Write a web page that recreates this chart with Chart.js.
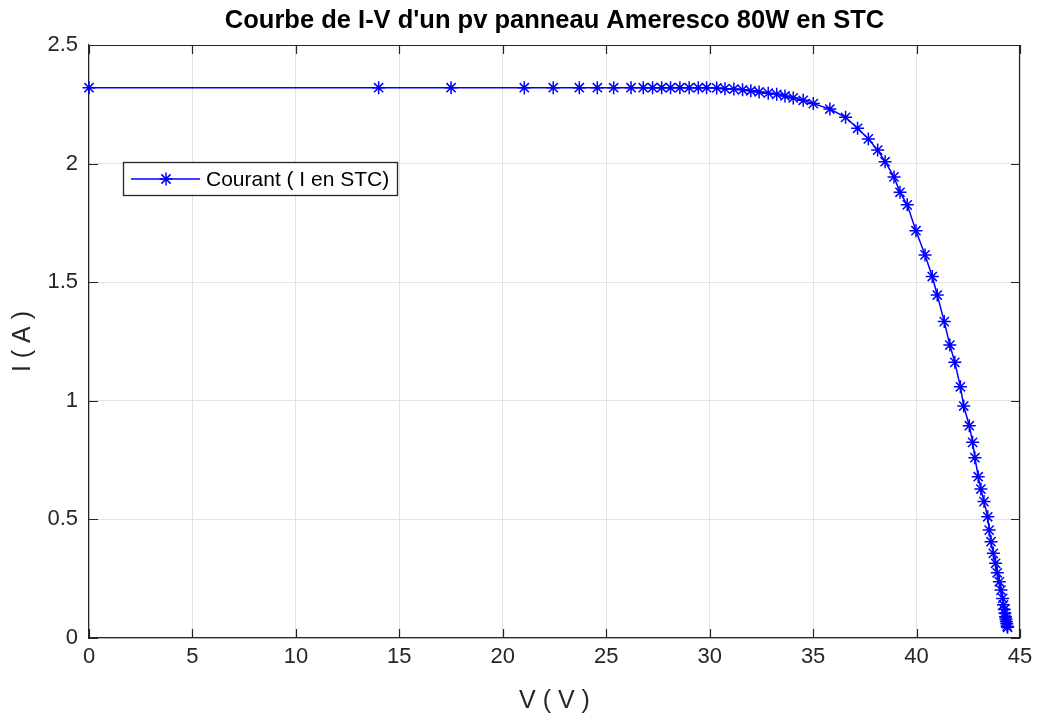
<!DOCTYPE html>
<html>
<head>
<meta charset="utf-8">
<script src="https://cdn.jsdelivr.net/npm/chart.js@4/dist/chart.umd.min.js"></script>
<style>
  html, body { margin: 0; padding: 0; background: #fff; }
  #wrap { width: 1042px; height: 720px; }
</style>
</head>
<body>
<div id="wrap"><canvas id="iv"></canvas></div>
<script>
// I-V curve (V in volts, I in amps)
const voltage = [0, 14.0, 17.5, 21.04, 22.44, 23.70, 24.57, 25.36, 26.20, 26.79, 27.24, 27.68, 28.11, 28.56, 29.01,
    29.45, 29.85, 30.34, 30.74, 31.17, 31.59, 31.99, 32.39, 32.83, 33.24, 33.64, 34.04, 34.52, 35.01, 35.81,
    36.57, 37.15, 37.67, 38.12, 38.48, 38.91, 39.20, 39.55, 39.97, 40.41, 40.76, 41.00, 41.34, 41.61, 41.85,
    42.12, 42.28, 42.55, 42.71, 42.82, 42.98, 43.11, 43.26, 43.44, 43.51, 43.60, 43.71, 43.82, 43.90, 44.00,
    44.08, 44.16, 44.20, 44.24, 44.27, 44.30, 44.32, 44.34, 44.36, 44.38, 44.40];
const current = [2.32, 2.32, 2.32, 2.32, 2.32, 2.32, 2.32, 2.32, 2.32, 2.32, 2.32, 2.32, 2.32, 2.32, 2.32,
    2.32, 2.32, 2.319, 2.316, 2.314, 2.311, 2.307, 2.302, 2.297, 2.292, 2.285, 2.277, 2.267, 2.253, 2.23,
    2.195, 2.149, 2.104, 2.057, 2.008, 1.944, 1.879, 1.826, 1.717, 1.615, 1.524, 1.446, 1.334, 1.235, 1.162,
    1.059, 0.978, 0.895, 0.825, 0.760, 0.680, 0.628, 0.575, 0.511, 0.455, 0.406, 0.357, 0.315, 0.275, 0.237,
    0.202, 0.167, 0.14, 0.12, 0.105, 0.09, 0.08, 0.07, 0.06, 0.05, 0.045];

const xTicks = [0, 5, 10, 15, 20, 25, 30, 35, 40, 45];
const yTicks = [0, 0.5, 1, 1.5, 2, 2.5];

const titleText = "Courbe de I-V d'un pv panneau Ameresco 80W en STC";
const seriesLabel = 'Courant ( I en STC)';

const FONT = "'Liberation Sans', Arial, Helvetica, sans-serif";
const AXIS = '#262626';
const BLUE = '#0000ff';

// title over the axes, inner tick marks, top/right box lines and the legend
const matlabBox = {
    id: 'matlabBox',
    afterDraw(chart) {
        const { ctx, chartArea: a, scales: { x, y } } = chart;
        const len = 9;
        ctx.save();
        ctx.fillStyle = '#000';
        ctx.font = 'bold 25.5px ' + FONT;
        ctx.textAlign = 'center';
        ctx.textBaseline = 'middle';
        ctx.fillText(titleText, (a.left + a.right) / 2, 21);

        ctx.strokeStyle = AXIS;
        ctx.lineWidth = 1.2;
        ctx.beginPath();
        ctx.moveTo(a.left, a.top + 0.5);
        ctx.lineTo(a.right, a.top + 0.5);
        ctx.moveTo(a.right - 0.5, a.top);
        ctx.lineTo(a.right - 0.5, a.bottom);
        xTicks.forEach(v => {
            const px = Math.round(x.getPixelForValue(v)) + 0.5;
            ctx.moveTo(px, a.bottom); ctx.lineTo(px, a.bottom - len);
            ctx.moveTo(px, a.top); ctx.lineTo(px, a.top + len);
        });
        yTicks.forEach(v => {
            const py = Math.round(y.getPixelForValue(v)) + 0.5;
            ctx.moveTo(a.left, py); ctx.lineTo(a.left + len, py);
            ctx.moveTo(a.right, py); ctx.lineTo(a.right - len, py);
        });
        ctx.stroke();

        // legend
        const bx = 123.5, by = 162.5, bw = 274, bh = 33;
        ctx.fillStyle = '#fff';
        ctx.fillRect(bx, by, bw, bh);
        ctx.strokeStyle = AXIS;
        ctx.lineWidth = 1.3;
        ctx.strokeRect(bx, by, bw, bh);
        const ly = by + bh / 2;
        ctx.strokeStyle = BLUE;
        ctx.lineWidth = 1.5;
        ctx.beginPath();
        ctx.moveTo(131, ly); ctx.lineTo(200, ly);
        ctx.stroke();
        Chart.helpers.drawPoint(ctx, { pointStyle: 'star', radius: 6.5, rotation: 0, borderWidth: 1.5 }, 166, ly);
        ctx.fillStyle = '#000';
        ctx.font = '21px ' + FONT;
        ctx.textAlign = 'left';
        ctx.textBaseline = 'middle';
        ctx.fillText(seriesLabel, 206, ly + 1);
        ctx.restore();
    }
};

new Chart(document.getElementById('iv'), {
    type: 'scatter',
    data: {
        datasets: [{
            label: seriesLabel,
            data: voltage.map((v, i) => ({ x: v, y: current[i] })),
            showLine: true,
            borderColor: BLUE,
            backgroundColor: BLUE,
            borderWidth: 1.5,
            pointStyle: 'star',
            pointRadius: 6.5,
            pointBorderWidth: 1.5,
            pointBorderColor: BLUE,
            tension: 0,
            clip: false
        }]
    },
    options: {
        responsive: true,
        maintainAspectRatio: false,
        animation: false,
        events: [],
        layout: { padding: { left: 0, right: 22, top: 45, bottom: 0 } },
        plugins: {
            legend: { display: false },
            tooltip: { enabled: false },
            title: { display: false }
        },
        scales: {
            x: {
                type: 'linear',
                min: 0, max: 45,
                afterBuildTicks: s => { s.ticks = xTicks.map(v => ({ value: v })); },
                afterFit: s => { s.height = 82; },
                grid: { color: '#e3e3e3', lineWidth: 1, drawTicks: false },
                border: { display: true, color: AXIS, width: 1.2 },
                ticks: { color: AXIS, padding: 6, maxRotation: 0, font: { family: FONT, size: 22 },
                    callback: v => String(v) },
                title: {
                    display: true, text: 'V ( V )', color: AXIS,
                    font: { family: FONT, size: 25 }, padding: { top: 0, bottom: 4 }
                }
            },
            y: {
                type: 'linear',
                min: 0, max: 2.5,
                afterBuildTicks: s => { s.ticks = yTicks.map(v => ({ value: v })); },
                afterFit: s => { s.width = 89; },
                grid: { color: '#e3e3e3', lineWidth: 1, drawTicks: false },
                border: { display: true, color: AXIS, width: 1.2 },
                ticks: { color: AXIS, padding: 11, font: { family: FONT, size: 22 },
                    callback: v => String(v) },
                title: {
                    display: true, text: 'I ( A )', color: AXIS,
                    font: { family: FONT, size: 25 }, padding: { top: 8, bottom: 0 }
                }
            }
        }
    },
    plugins: [matlabBox]
});
</script>
</body>
</html>
